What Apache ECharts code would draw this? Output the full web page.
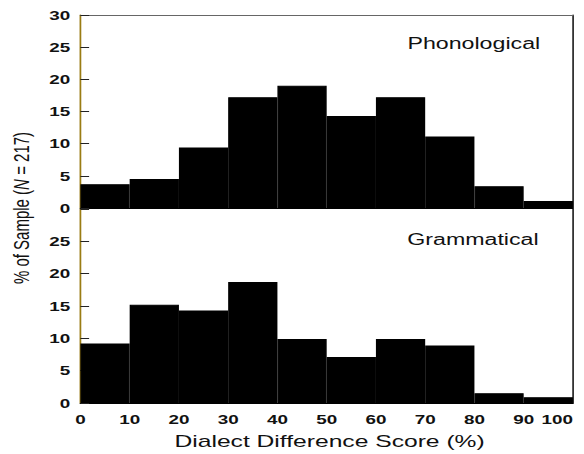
<!DOCTYPE html>
<html>
<head>
<meta charset="utf-8">
<script src="https://cdn.jsdelivr.net/npm/echarts@6/dist/echarts.min.js"></script>
<style>
  html, body { margin: 0; padding: 0; background: #fff; overflow: hidden; }
  /* the reference figure is stretched horizontally; reproduce that stretch */
  #chart { width: 403px; height: 454px; transform: scaleX(1.449); transform-origin: 0 0; }
</style>
</head>
<body>
<div id="chart"></div>
<script>
// ---- data ----
const binLabels = ['0-10', '10-20', '20-30', '30-40', '40-50', '50-60', '60-70', '70-80', '80-90', '90-100'];
const phonological = [3.7, 4.5, 9.4, 17.2, 19.0, 14.3, 17.2, 11.1, 3.4, 1.1];
const grammatical = [9.2, 15.2, 14.3, 18.7, 9.9, 7.1, 9.9, 8.9, 1.5, 0.9];
const panelTitles = ['Phonological', 'Grammatical'];
const xTitle = 'Dialect Difference Score (%)';

const FONT = 'Liberation Sans, Arial, sans-serif';
const chart = echarts.init(document.getElementById('chart'), null, { renderer: 'svg' });

const hiddenCat = (grid) => ({
  gridIndex: grid, type: 'category', data: binLabels, show: false, boundaryGap: true
});
const yLeft = (grid, hideTop) => ({
  gridIndex: grid, type: 'value', min: 0, max: 30, interval: 5, position: 'left',
  axisLine: { show: true, onZero: false, lineStyle: { color: '#9a7c14', width: 1.2 } },
  axisTick: { show: true, inside: true, length: 6, lineStyle: { color: '#222', width: 1 } },
  axisLabel: {
    margin: 7, fontFamily: FONT, fontSize: 13, fontWeight: 'bold', color: '#111',
    formatter: (v) => (hideTop && v === 30) ? '' : String(v)
  },
  splitLine: { show: false }
});
const yRight = (grid) => ({
  gridIndex: grid, type: 'value', min: 0, max: 30, position: 'right',
  axisLine: { show: true, onZero: false, lineStyle: { color: '#000', width: 1 } },
  axisTick: { show: false }, axisLabel: { show: false }, splitLine: { show: false }
});

chart.setOption({
  backgroundColor: '#fff',
  animation: false,
  grid: [
    { left: 55.5, right: 7.6, top: 15, height: 193, outerBoundsMode: 'none', containLabel: false },
    { left: 55.5, right: 7.6, top: 209, height: 194, outerBoundsMode: 'none', containLabel: false }
  ],
  xAxis: [
    hiddenCat(0),
    { gridIndex: 0, type: 'value', min: 0, max: 100, position: 'bottom',
      axisLine: { show: true, onZero: false, lineStyle: { color: '#000', width: 1.2 } },
      axisTick: { show: false }, axisLabel: { show: false }, splitLine: { show: false } },
    { gridIndex: 0, type: 'value', min: 0, max: 100, position: 'top',
      axisLine: { show: true, onZero: false, lineStyle: { color: '#666', width: 1 } },
      axisTick: { show: false }, axisLabel: { show: false }, splitLine: { show: false } },
    hiddenCat(1),
    { gridIndex: 1, type: 'value', min: 0, max: 100, interval: 10, position: 'bottom',
      axisLine: { show: true, onZero: false, lineStyle: { color: '#000', width: 1.2 } },
      axisTick: { show: false },
      axisLabel: { margin: 10, fontFamily: FONT, fontSize: 13, fontWeight: 'bold', color: '#111',
                   alignMaxLabel: 'right' },
      splitLine: { show: false },
      name: xTitle, nameLocation: 'middle', nameGap: 29,
      nameTextStyle: { fontFamily: FONT, fontSize: 17, color: '#111', padding: [0, 0, 0, 4] } }
  ],
  yAxis: [ yLeft(0, false), yRight(0), yLeft(1, true), yRight(1) ],
  graphic: [
    { type: 'text', x: 327, y: 43, style: { text: panelTitles[0], font: '16px ' + FONT, fill: '#111', align: 'center', verticalAlign: 'middle' } },
    { type: 'text', x: 326.4, y: 239, style: { text: panelTitles[1], font: '16px ' + FONT, fill: '#111', align: 'center', verticalAlign: 'middle' } },
    { type: 'text', x: 14.5, y: 208, rotation: Math.PI / 2,
      style: {
        text: '{n|% of Sample (}{i|N}{n| = 217)}',
        align: 'center', verticalAlign: 'middle',
        rich: {
          n: { fontFamily: FONT, fontSize: 15, fill: '#111', color: '#111' },
          i: { fontFamily: FONT, fontSize: 15, fontStyle: 'italic', fill: '#111', color: '#111' }
        }
      } }
  ],
  series: [
    { type: 'bar', name: panelTitles[0], xAxisIndex: 0, yAxisIndex: 0, data: phonological,
      barCategoryGap: '0%', itemStyle: { color: '#000', borderColor: '#000', borderWidth: 1 } },
    { type: 'bar', name: panelTitles[1], xAxisIndex: 3, yAxisIndex: 2, data: grammatical,
      barCategoryGap: '0%', itemStyle: { color: '#000', borderColor: '#000', borderWidth: 1 } }
  ]
});
</script>
</body>
</html>
